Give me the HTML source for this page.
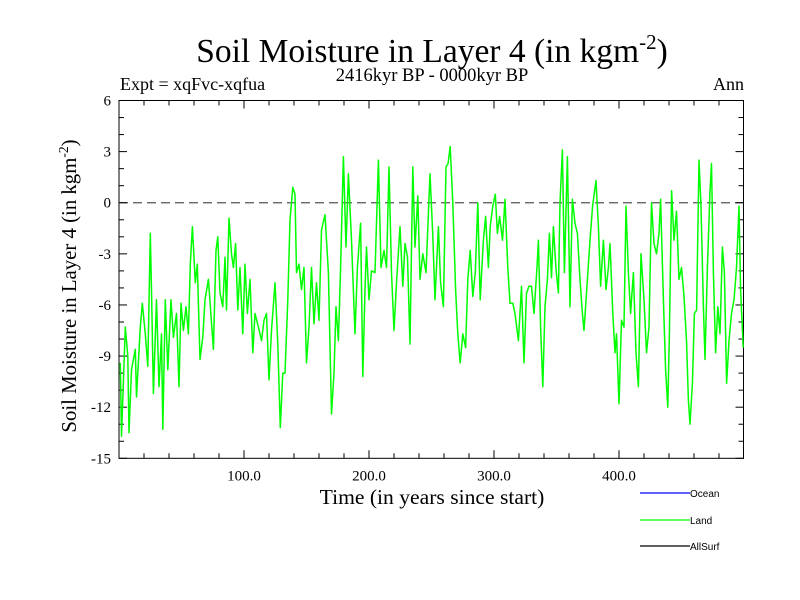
<!DOCTYPE html>
<html><head><meta charset="utf-8"><style>
body{margin:0;background:#fff;}
svg{display:block;font-family:"Liberation Serif",serif;}
</style></head><body>
<svg id="chart" width="800" height="600" xmlns="http://www.w3.org/2000/svg">
<rect width="800" height="600" fill="#fff"/>
<text x="432" y="62" font-size="33.5" text-anchor="middle">Soil Moisture in Layer 4 (in kgm<tspan dy="-13" font-size="21">-2</tspan><tspan dy="13">)</tspan></text>
<text x="120" y="90" font-size="18">Expt = xqFvc-xqfua</text>
<text x="432" y="81" font-size="18.5" text-anchor="middle">2416kyr BP - 0000kyr BP</text>
<text x="744" y="90" font-size="18" text-anchor="end">Ann</text>
<g id="axes"></g>
<g id="series"></g>
<text x="432" y="504" font-size="21.6" text-anchor="middle">Time (in years since start)</text>
<text transform="translate(76,286) rotate(-90)" font-size="20.8" text-anchor="middle">Soil Moisture in Layer 4 (in kgm<tspan dy="-8" font-size="13.5">-2</tspan><tspan dy="8">)</tspan></text>
<g font-family="Liberation Sans, sans-serif" font-size="10">
<line x1="640" y1="493" x2="690" y2="493" stroke="#0000ff" stroke-width="1.2"/>
<text x="690" y="497">Ocean</text>
<line x1="640" y1="520" x2="690" y2="520" stroke="#00ff00" stroke-width="1.2"/>
<text x="690" y="524">Land</text>
<line x1="640" y1="546" x2="690" y2="546" stroke="#000" stroke-width="1.2"/>
<text x="690" y="550">AllSurf</text>
</g>
</svg>
<script>
const years=[1,2,5,7,8,10,13,14,17,18.6,21,23,25,26,27.5,30,32,34,35,37,39,41.6,43.5,46,48,49.6,51.5,53.6,55.5,57,58.7,61,62.6,64.8,67,68.8,71.5,73.3,75.5,77.6,79,80.8,83,84.8,86,88,90,91.5,93.3,95,96.8,99,100.8,102.7,104.8,107,108.8,111.5,114,116,118,120,122,124.8,127,129,131,132.8,135,136.8,139,140.8,142,144,146,148,150,152,154,156,158,160,162,164.8,167.5,170,172,173.6,175.5,177.3,179.5,181.6,183.5,186,188.8,190.7,193.3,195,196.8,198,200,202,204.8,207.5,209.6,212,214,216,218,220,222,224.8,227,228.8,230.8,232.8,235,236.8,239,240.8,243,245.6,248.8,251,252.8,255.5,257.3,259.5,261.6,263.3,265,267,269.3,271,273,275,277.3,279,281,283,285,287,289,291.5,293.3,295.5,297,299,301,302.7,304.5,306.8,308.8,311,312.8,315,316.8,319.5,322,324,326,328,330,332,334.4,335.5,337.3,339,340.8,342.7,344.3,346,347.5,349.6,351.5,352.8,354.7,356.3,358.7,360.8,362.7,364.8,366.7,368.8,370.7,372,374,376.8,378.9,381.6,383.5,385.3,387.5,389.6,391.5,392.8,395,396.8,398,400,402,404,405.6,407.5,409.3,411.5,413.6,415.5,417.6,420,422,424,426,428,430,432,433.3,435.5,437.3,439,440.3,442.1,444,446,448,450,452,454,455.5,456.8,458.7,460.3,462.1,464,465.6,467.5,468.8,470.7,472.8,474,475.5,477.3,479,480.8,482.7,484.3,486.1,488,490,492,494,496,497.3,499.4];
const landValues=[-9.4,-13.7,-7.3,-9,-13.5,-9.8,-8.6,-11.4,-7.3,-5.9,-7.7,-9.6,-1.8,-5.1,-11.2,-5.7,-10.8,-7.7,-13.3,-5.7,-9.8,-5.7,-7.9,-6.5,-10.8,-5.9,-7.5,-6.1,-7.7,-3.6,-1.4,-4.7,-3.6,-9.2,-7.9,-5.7,-4.5,-6.3,-8.6,-2.8,-2,-5.3,-6.1,-3.2,-6.3,-0.9,-3,-3.8,-2.4,-6.3,-3.8,-7.7,-3.6,-6.5,-4.5,-8.8,-6.5,-7.3,-8.1,-6.9,-6.5,-10.4,-7.5,-4.7,-8.3,-13.2,-10,-10,-5.7,-1,0.9,0.5,-4.1,-3.6,-5.1,-3.8,-9.4,-7.3,-3.8,-7.1,-4.7,-6.9,-1.6,-0.7,-4.1,-12.4,-10,-6.1,-8.1,-3.8,2.7,-2.6,1.7,-2.2,-7.7,-3.8,-1.2,-10.2,-5.1,-2.6,-5.7,-4,-4.1,2.5,-3.8,-2.8,-3.8,2.1,-4.1,-7.5,-4.7,-1.4,-4.9,-2.4,-3.2,-8.3,2.1,-2.6,0.4,-4.5,-3,-4.1,1.7,-1.8,-5.7,-1.4,-4.7,-6.1,2.1,2.3,3.3,0,-5.1,-7.7,-9.4,-7.7,-8.5,-4.5,-2.8,-5.5,-4.1,0,-5.7,-2.2,-0.8,-3.8,-1.4,-0.2,0.5,-1.8,-0.8,-2.2,0.2,-3.8,-5.9,-5.9,-6.5,-8.1,-4.9,-9.4,-5.3,-4.9,-4.9,-6.5,-3.8,-2.2,-7.3,-10.8,-6.1,-4.5,-1.8,-4.4,-1.4,-3.9,-5.3,0,3.1,-4.1,2.7,-6.1,0.2,-1.2,-1.8,-4.5,-6.5,-7.5,-5.3,-2.2,-0.2,1.3,-1.4,-4.9,-2.2,-5.1,-3.8,-2.4,-6.5,-8.8,-7.7,-11.8,-6.9,-7.3,-0.2,-4.1,-6.5,-4.1,-8.8,-10.8,-3,-5.7,-8.8,-7.3,0,-2.4,-3,-1.8,0.2,-5.7,-9.8,-12,-7.7,0.7,-2.2,-0.5,-4.5,-3.8,-5.5,-8.1,-11.6,-13,-10.6,-6.5,-6.3,2.5,-0.2,-6.1,-9.2,-3.8,0.7,2.3,-4.1,-8.8,-6.1,-7.7,-2.6,-4.1,-10.6,-8.1,-6.5,-5.7,-3.8,-0.2,-5.1,-8.5];
const yTicks=[6,3,0,-3,-6,-9,-12,-15];
const xTicks=[100,200,300,400];

const NS='http://www.w3.org/2000/svg';
const L=119,R=743.5,T=100.5,B=458.3,X0=0,X1=499.6,Y0=-15,Y1=6;
const sx=t=>L+(t-X0)/(X1-X0)*(R-L);
const sy=v=>B-(v-Y0)/(Y1-Y0)*(B-T);
const axes=document.getElementById('axes');
function mk(tag,attrs,parent){const e=document.createElementNS(NS,tag);for(const k in attrs)e.setAttribute(k,attrs[k]);parent.appendChild(e);return e;}
const frame=mk('rect',{x:L,y:T,width:R-L,height:B-T,fill:'none',stroke:'#000','stroke-width':1},axes);


const zero=mk('line',{x1:L,x2:R,y1:sy(0),y2:sy(0),stroke:'#555','stroke-width':1.3,'stroke-dasharray':'9,5'},axes);


for(let v=Y0;v<=Y1;v++){
  const big=v%3===0;const len=big?8:5;
  mk('line',{x1:L,x2:L+len,y1:sy(v),y2:sy(v),stroke:'#000'},axes);
  mk('line',{x1:R,x2:R-len,y1:sy(v),y2:sy(v),stroke:'#000'},axes);
}
yTicks.forEach(v=>{
  const t=mk('text',{x:L-8,y:sy(v)+5,'font-size':15,'text-anchor':'end'},axes);
  t.textContent=v;
  
  
});
for(let t=20;t<X1;t+=20){
  const big=t%100===0;const len=big?8:5;
  mk('line',{x1:sx(t),x2:sx(t),y1:B,y2:B-len,stroke:'#000'},axes);
  mk('line',{x1:sx(t),x2:sx(t),y1:T,y2:T+len,stroke:'#000'},axes);
}
xTicks.forEach(t=>{
  const e=mk('text',{x:sx(t),y:B+22,'font-size':15,'text-anchor':'middle'},axes);
  e.textContent=t.toFixed(1);
  
  
});
const series=document.getElementById('series');
const pts=years.map((t,i)=>sx(t).toFixed(1)+','+sy(landValues[i]).toFixed(1)).join(' ');
const line=mk('polyline',{points:pts,fill:'none',stroke:'#00ff00','stroke-width':1.5,'stroke-linejoin':'round'},series);


</script>
</body></html>
